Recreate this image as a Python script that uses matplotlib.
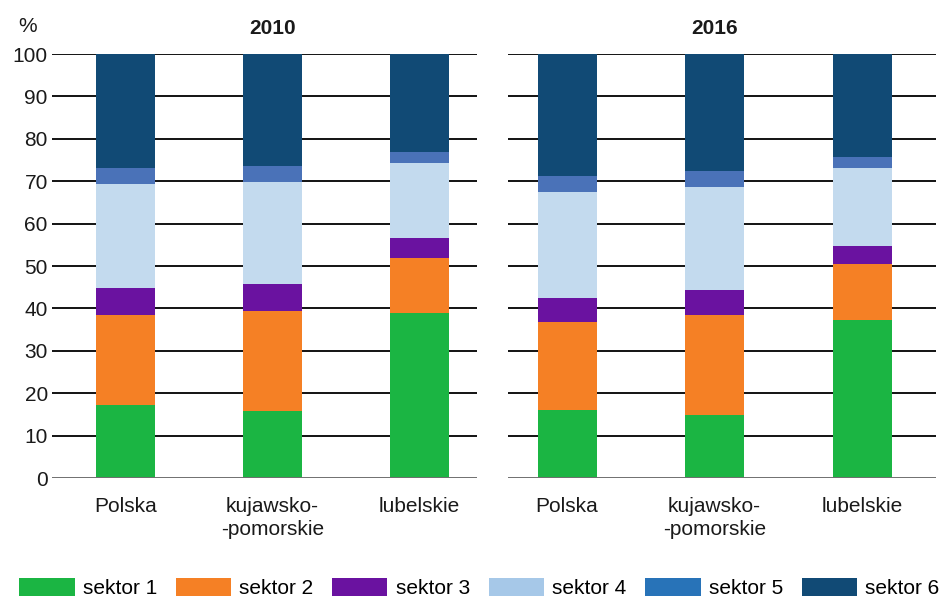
import numpy as np
import matplotlib
matplotlib.use("Agg")
import matplotlib.pyplot as plt
from matplotlib.patches import Patch

plt.rcParams['font.family'] = ['Liberation Sans', 'DejaVu Sans']

regions = ["Polska", "kujawsko-\n-pomorskie", "lubelskie"]
years = ["2010", "2016"]
sectors = ["sektor 1", "sektor 2", "sektor 3", "sektor 4", "sektor 5", "sektor 6"]

# shares per sector (rows) for each region (columns)
data_2010 = [
    [17.3, 15.8, 38.9],
    [21.2, 23.6, 12.9],
    [6.2, 6.4, 4.7],
    [24.6, 23.9, 17.8],
    [3.7, 3.9, 2.5],
    [27.0, 26.4, 23.2],
]
data_2016 = [
    [16.0, 14.8, 37.2],
    [20.7, 23.7, 13.2],
    [5.7, 5.8, 4.3],
    [25.1, 24.3, 18.4],
    [3.7, 3.7, 2.6],
    [28.8, 27.7, 24.3],
]

bar_colors = ["#1bb543", "#f58025", "#6a12a0", "#c3daee", "#4a72b8", "#114a75"]
legend_colors = ["#1bb543", "#f58025", "#6a12a0", "#a6c8e8", "#2873b8", "#114a75"]

FS = 15

fig = plt.figure(figsize=(9.47, 5.98), dpi=100)
ax1 = fig.add_axes([52 / 947, 1 - 478 / 598, 425 / 947, 424 / 598])
ax2 = fig.add_axes([508 / 947, 1 - 478 / 598, 428 / 947, 424 / 598])


def draw_panel(ax, data, year, xlim, show_labels):
    x = np.arange(len(regions))
    bottom = np.zeros(len(regions))
    for vals, col in zip(data, bar_colors):
        vals = np.array(vals)
        ax.bar(x, vals, 0.4, bottom=bottom, color=col, zorder=3)
        bottom += vals
    ax.set_xlim(*xlim)
    ax.set_ylim(0, 100)
    for yv in range(10, 101, 10):
        ax.axhline(yv, color="black", lw=1.3, zorder=1)
    ax.axhline(0, color="#707070", lw=1.4, zorder=4)
    for s in ax.spines.values():
        s.set_visible(False)
    ax.set_yticks(range(0, 101, 10))
    ax.tick_params(axis="both", length=0, labelsize=FS, colors="#1a1a1a")
    ax.tick_params(axis="x", pad=14)
    ax.tick_params(axis="y", pad=3)
    if not show_labels:
        ax.set_yticklabels([])
    ax.set_xticks(x)
    ax.set_xticklabels(regions, linespacing=1.25)
    ax.text(1, 106, year, ha="center", va="center", fontsize=FS,
            fontweight="bold", color="#1a1a1a", clip_on=False)


draw_panel(ax1, data_2010, years[0], (-0.5, 2.39), True)
draw_panel(ax2, data_2016, years[1], (-0.4, 2.5), False)

fig.text(28 / 947, 1 - 27 / 598, "%", ha="center", va="center",
         fontsize=FS, color="#1a1a1a")

handles = [Patch(facecolor=c) for c in legend_colors]
fig.legend(handles, sectors, loc="center",
           bbox_to_anchor=(0.5 + 6 / 947, 1 - 588 / 598),
           ncol=6, frameon=False, fontsize=FS, handlelength=2.65,
           handleheight=1.0, columnspacing=0.9, handletextpad=0.4,
           borderpad=0, borderaxespad=0)

fig.savefig("out.png", dpi=100)
